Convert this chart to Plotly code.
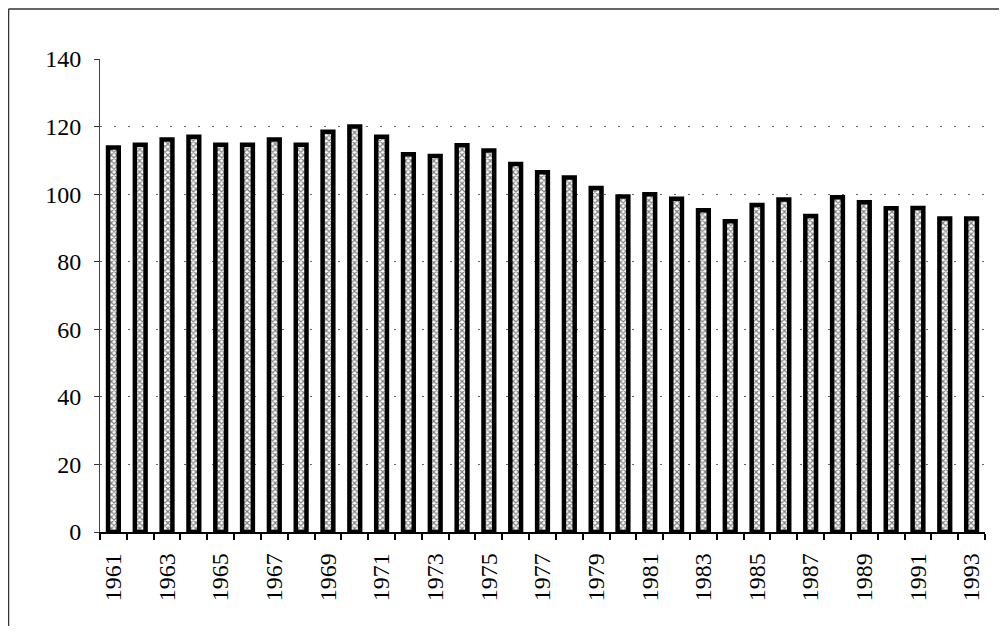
import plotly.graph_objects as go

years = [1961, 1962, 1963, 1964, 1965, 1966, 1967, 1968, 1969, 1970, 1971,
         1972, 1973, 1974, 1975, 1976, 1977, 1978, 1979, 1980, 1981, 1982,
         1983, 1984, 1985, 1986, 1987, 1988, 1989, 1990, 1991, 1992, 1993]
values = [113.8, 114.6, 116.2, 117.0, 114.6, 114.6, 116.2, 114.6, 118.5, 120.0, 117.0,
          111.8, 111.3, 114.5, 112.9, 108.9, 106.5, 104.9, 101.8, 99.3, 100.0, 98.6,
          95.2, 92.0, 96.8, 98.4, 93.5, 99.1, 97.6, 95.8, 95.9, 92.8, 92.8]
label_years = years[::2]
y_ticks = [0, 20, 40, 60, 80, 100, 120, 140]

boundaries = [y - 0.5 for y in years] + [years[-1] + 0.5]

FONT = "Liberation Serif, Times New Roman, serif"

W, H = 991, 618
L, R, T, B = 92, 14, 51, 94
pw, ph = W - L - R, H - T - B

fig = go.Figure()
fig.add_trace(go.Bar(
    x=years, y=values,
    marker=dict(
        color="white",
        line=dict(color="black", width=4.5),
        pattern=dict(shape="x", fgcolor="black", bgcolor="white", size=4, solidity=0.5),
    ),
    showlegend=False,
))

bx = (0.5 - L) / pw
by = 1 + (T - 1) / ph

fig.update_layout(
    width=W, height=H,
    margin=dict(l=L, r=R, t=T, b=B),
    paper_bgcolor="white", plot_bgcolor="white",
    bargap=0.6,
    font=dict(family=FONT, size=24, color="black"),
    xaxis=dict(
        range=[years[0] - 0.5, years[-1] + 0.5],
        tickmode="array", tickvals=label_years, ticktext=[str(y) for y in label_years],
        tickangle=-90, ticks="", ticklabelstandoff=10,
        showline=True, linecolor="black", linewidth=1.5,
        showgrid=False, zeroline=False,
        minor=dict(tickmode="array", tickvals=boundaries, ticks="outside",
                   ticklen=6, tickcolor="black", tickwidth=1.5, showgrid=False),
        tickfont=dict(family=FONT, size=24),
    ),
    yaxis=dict(
        range=[0, 140], tickmode="array", tickvals=y_ticks,
        ticks="outside", ticklen=5, tickcolor="#333", ticklabelstandoff=8,
        showline=True, linecolor="#444", linewidth=1,
        showgrid=True, gridcolor="#666", gridwidth=1, griddash="2px,12px",
        zeroline=False,
        tickfont=dict(family=FONT, size=24),
    ),
    shapes=[
        dict(type="line", xref="paper", yref="paper",
             x0=bx, x1=bx, y0=-0.5, y1=by,
             line=dict(color="#333", width=1.5)),
        dict(type="line", xref="paper", yref="paper",
             x0=bx, x1=1.2, y0=by, y1=by,
             line=dict(color="#333", width=1.5)),
    ],
)

fig.write_html("out.html")
